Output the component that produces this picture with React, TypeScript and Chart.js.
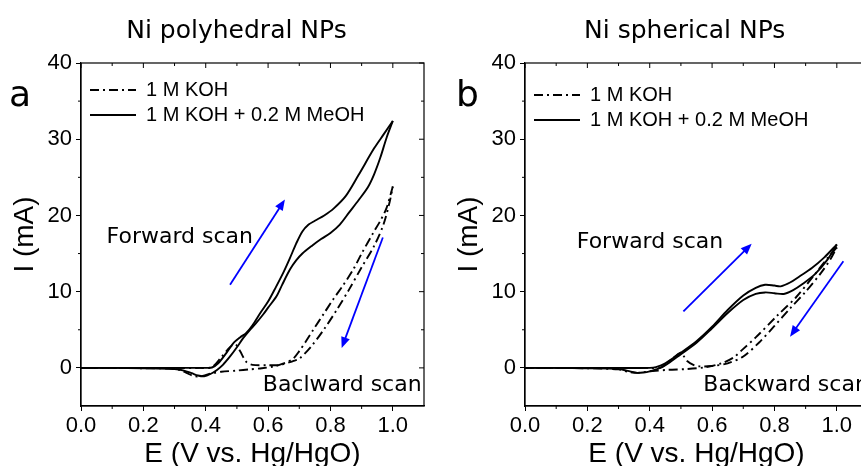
import React, { useEffect, useRef } from "react";
import { Chart, registerables } from "chart.js";

Chart.register(...registerables);

// ---- Text ----
const panelTitles = ["Ni polyhedral NPs", "Ni spherical NPs"];
const panelLetters = ["a", "b"];
const seriesLabels = ["1 M KOH", "1 M KOH + 0.2 M MeOH"];
const xAxisTitle = "E (V vs. Hg/HgO)";
const yAxisTitle = "I (mA)";
const forwardText = "Forward scan";
const backwardTextA = "Baclward scan";
const backwardTextB = "Backward scan";

// ---- Ticks ----
const xTickValues = [0, 0.2, 0.4, 0.6, 0.8, 1.0];
const xMinorValues = [0.1, 0.3, 0.5, 0.7, 0.9];
const yTickValues = [0, 10, 20, 30, 40];
const yMinorValues = [5, 15, 25, 35];

// ---- Panel a (polyhedral) ----
const kohAFwdX = [0, 0.1, 0.2, 0.3, 0.38, 0.42, 0.45, 0.48, 0.495, 0.51, 0.53, 0.55, 0.6, 0.64, 0.68, 0.7, 0.74, 0.78, 0.82, 0.86, 0.9, 0.94, 0.97, 0.99, 1.0];
const kohAFwdY = [0, 0, 0, 0, 0, 0.1, 1.4, 2.8, 3.1, 2.2, 0.8, 0.4, 0.35, 0.4, 0.9, 1.2, 2.9, 5.1, 7.6, 10.3, 13.2, 16.0, 18.8, 21.8, 23.8];
const kohABwdX = [1.0, 0.98, 0.96, 0.937, 0.9, 0.873, 0.84, 0.809, 0.78, 0.745, 0.72, 0.7, 0.68, 0.65, 0.62, 0.58, 0.54, 0.5, 0.45, 0.42, 0.39, 0.365, 0.34, 0.32, 0.28, 0.2, 0.1, 0];
const kohABwdY = [23.8, 21.0, 19.3, 17.7, 15.0, 12.9, 10.8, 9.0, 7.2, 5.0, 3.4, 2.2, 1.2, 0.6, 0.2, -0.05, -0.2, -0.35, -0.5, -0.7, -1.05, -1.1, -0.7, -0.3, -0.1, -0.05, 0, 0];
const meohAFwdX = [0, 0.1, 0.2, 0.3, 0.4, 0.42, 0.44, 0.467, 0.49, 0.51, 0.53, 0.55, 0.575, 0.6, 0.625, 0.65, 0.67, 0.69, 0.71, 0.73, 0.75, 0.78, 0.81, 0.85, 0.89, 0.94, 0.97, 1.0];
const meohAFwdY = [0, 0, 0, 0, 0, 0.05, 0.6, 2.0, 3.3, 4.0, 4.6, 5.6, 7.2, 8.7, 10.6, 12.6, 14.4, 16.3, 17.9, 18.8, 19.3, 20.0, 20.9, 22.6, 25.3, 28.8, 30.6, 32.4];
const meohABwdX = [1.0, 0.98, 0.96, 0.94, 0.92, 0.89, 0.86, 0.83, 0.8, 0.77, 0.74, 0.71, 0.69, 0.67, 0.645, 0.627, 0.6, 0.584, 0.56, 0.542, 0.52, 0.5, 0.478, 0.455, 0.435, 0.415, 0.395, 0.375, 0.355, 0.33, 0.3, 0.2, 0.1, 0];
const meohABwdY = [32.4, 30.2, 27.6, 25.4, 23.7, 22.0, 20.4, 18.8, 17.7, 16.9, 16.0, 15.0, 14.1, 12.9, 10.9, 9.4, 7.9, 7.0, 5.8, 5.0, 3.9, 2.7, 1.5, 0.4, -0.3, -0.8, -1.1, -1.0, -0.7, -0.35, -0.15, -0.05, 0, 0];

// ---- Panel b (spherical) ----
const kohBFwdX = [0, 0.1, 0.2, 0.3, 0.4, 0.433, 0.46, 0.49, 0.5, 0.51, 0.52, 0.54, 0.56, 0.6, 0.65, 0.7, 0.75, 0.8, 0.85, 0.9, 0.95, 0.98, 1.0];
const kohBFwdY = [0, 0, 0, 0, 0, 0, 0.8, 1.8, 2.0, 1.5, 0.9, 0.4, 0.2, 0.25, 0.6, 1.5, 3.3, 5.5, 7.8, 10.0, 12.5, 14.3, 15.8];
const kohBBwdX = [1.0, 0.97, 0.93, 0.87, 0.81, 0.74, 0.7, 0.67, 0.63, 0.58, 0.52, 0.46, 0.4, 0.36, 0.33, 0.3, 0.2, 0.1, 0];
const kohBBwdY = [15.8, 14.4, 12.3, 9.3, 6.9, 4.0, 2.5, 1.4, 0.6, 0.1, -0.15, -0.25, -0.45, -0.65, -0.5, -0.2, -0.05, 0, 0];
const meohBFwdX = [0, 0.1, 0.2, 0.3, 0.4, 0.42, 0.45, 0.5, 0.55, 0.6, 0.65, 0.7, 0.74, 0.77, 0.8, 0.82, 0.85, 0.88, 0.92, 0.96, 1.0];
const meohBFwdY = [0, 0, 0, 0, 0, 0.1, 0.6, 2.0, 3.5, 5.4, 7.6, 9.5, 10.5, 10.9, 10.8, 10.7, 11.2, 12.0, 13.1, 14.5, 16.2];
const meohBBwdX = [1.0, 0.97, 0.93, 0.89, 0.86, 0.83, 0.8, 0.77, 0.74, 0.7, 0.65, 0.6, 0.55, 0.5, 0.46, 0.44, 0.42, 0.4, 0.38, 0.36, 0.33, 0.3, 0.2, 0.1, 0];
const meohBBwdY = [16.2, 14.2, 12.3, 11.0, 10.2, 9.7, 9.8, 9.9, 9.7, 8.9, 7.2, 5.2, 3.3, 1.8, 0.6, 0.1, -0.2, -0.45, -0.6, -0.65, -0.4, -0.15, -0.05, 0, 0];

// ---- Scan-direction arrows (data coords: [x, y]) ----
const arrowA1From = [0.478, 10.9];
const arrowA1To = [0.654, 22.1];
const arrowA2From = [0.968, 17.1];
const arrowA2To = [0.836, 2.6];
const arrowB1From = [0.508, 7.4];
const arrowB1To = [0.727, 16.3];
const arrowB2From = [1.021, 14.0];
const arrowB2To = [0.85, 4.1];

const FONT_SANS = "'Liberation Sans', Arial, sans-serif";
const FONT_HAND = "'DejaVu Sans', sans-serif";
const DASH_DOT = [9, 4, 2, 4];
const LINE_W = 1.9;

type Panel = {
  title: string;
  titleX: number;
  letter: string;
  letterX: number;
  padLeft: number;
  padRight: number;
  legendDX: number;
  legendDY: number;
  koh: [number[], number[], number[], number[]];
  meoh: [number[], number[], number[], number[]];
  fwdPos: [number, number];
  bwdText: string;
  bwdPos: [number, number];
  arrows: number[][][];
};

const zip = (xs: number[], ys: number[]) => xs.map((x, i) => ({ x, y: ys[i] }));

function drawArrow(ctx: CanvasRenderingContext2D, x1: number, y1: number, x2: number, y2: number) {
  const ang = Math.atan2(y2 - y1, x2 - x1);
  const hl = 11;
  const hw = 4.5;
  const c = Math.cos(ang);
  const s = Math.sin(ang);
  ctx.beginPath();
  ctx.moveTo(x1, y1);
  ctx.lineTo(x2 - c * hl * 0.7, y2 - s * hl * 0.7);
  ctx.stroke();
  ctx.beginPath();
  ctx.moveTo(x2, y2);
  ctx.lineTo(x2 - hl * c + hw * s, y2 - hl * s - hw * c);
  ctx.lineTo(x2 - hl * c - hw * s, y2 - hl * s + hw * c);
  ctx.closePath();
  ctx.fill();
}

function decorPlugin(p: Panel) {
  return {
    id: "decor",
    afterLayout(chart: any) {
      const lg = chart.legend;
      const ca = chart.chartArea;
      if (lg && ca) {
        const h = lg.bottom - lg.top;
        lg.left = ca.left + p.legendDX;
        lg.top = ca.top + p.legendDY;
        lg.bottom = lg.top + h;
      }
    },
    afterDraw(chart: any) {
      const { ctx, chartArea: ca } = chart;
      const xs = chart.scales.x;
      const ys = chart.scales.y;
      ctx.save();
      ctx.setLineDash([]);
      ctx.strokeStyle = "#000";
      ctx.lineWidth = 1.2;
      ctx.strokeRect(ca.left, ca.top, ca.right - ca.left, ca.bottom - ca.top);
      ctx.lineWidth = 1;
      ctx.beginPath();
      for (const v of xTickValues) {
        const px = xs.getPixelForValue(v);
        ctx.moveTo(px, ca.top);
        ctx.lineTo(px, ca.top + 5);
      }
      for (const v of xMinorValues) {
        const px = xs.getPixelForValue(v);
        ctx.moveTo(px, ca.bottom);
        ctx.lineTo(px, ca.bottom + 3);
        ctx.moveTo(px, ca.top);
        ctx.lineTo(px, ca.top + 3);
      }
      for (const v of yTickValues) {
        const py = ys.getPixelForValue(v);
        ctx.moveTo(ca.right, py);
        ctx.lineTo(ca.right - 5, py);
      }
      for (const v of yMinorValues) {
        const py = ys.getPixelForValue(v);
        ctx.moveTo(ca.left, py);
        ctx.lineTo(ca.left - 3, py);
        ctx.moveTo(ca.right, py);
        ctx.lineTo(ca.right - 3, py);
      }
      ctx.stroke();

      // titles and letters
      ctx.fillStyle = "#000";
      ctx.textBaseline = "alphabetic";
      ctx.textAlign = "center";
      ctx.font = `25px ${FONT_HAND}`;
      ctx.fillText(p.title, p.titleX, 38);
      ctx.textAlign = "left";
      ctx.font = `36px ${FONT_HAND}`;
      ctx.fillText(p.letter, p.letterX, 106);

      // scan labels
      ctx.font = `22px ${FONT_HAND}`;
      ctx.fillText(forwardText, xs.getPixelForValue(p.fwdPos[0]), ys.getPixelForValue(p.fwdPos[1]));
      ctx.fillText(p.bwdText, xs.getPixelForValue(p.bwdPos[0]), ys.getPixelForValue(p.bwdPos[1]));

      // arrows
      ctx.strokeStyle = "#0000ff";
      ctx.fillStyle = "#0000ff";
      ctx.lineWidth = 1.8;
      for (const [from, to] of p.arrows) {
        drawArrow(
          ctx,
          xs.getPixelForValue(from[0]),
          ys.getPixelForValue(from[1]),
          xs.getPixelForValue(to[0]),
          ys.getPixelForValue(to[1])
        );
      }
      ctx.restore();
    },
  };
}

function buildConfig(p: Panel): any {
  const common = {
    showLine: true,
    pointRadius: 0,
    pointHoverRadius: 0,
    pointStyle: "line",
    pointBorderWidth: LINE_W,
    pointBorderColor: "#000",
    borderColor: "#000",
    backgroundColor: "#000",
    borderWidth: LINE_W,
    tension: 0.3,
    fill: false,
  };
  return {
    type: "scatter",
    data: {
      datasets: [
        { ...common, label: seriesLabels[0], data: zip(p.koh[0], p.koh[1]), borderDash: DASH_DOT },
        { ...common, label: "", data: zip(p.koh[2], p.koh[3]), borderDash: DASH_DOT },
        { ...common, label: seriesLabels[1], data: zip(p.meoh[0], p.meoh[1]) },
        { ...common, label: "", data: zip(p.meoh[2], p.meoh[3]) },
      ],
    },
    options: {
      animation: false,
      responsive: false,
      devicePixelRatio: 1,
      events: [],
      layout: { padding: { left: p.padLeft, top: 63, right: p.padRight, bottom: 0 } },
      plugins: {
        tooltip: { enabled: false },
        title: { display: false },
        legend: {
          display: true,
          position: "chartArea",
          align: "start",
          labels: {
            generateLabels: (chart: any) => {
              const items = Chart.defaults.plugins.legend.labels.generateLabels(chart);
              return items.map((it: any) => {
                const ds = chart.data.datasets[it.datasetIndex];
                return {
                  ...it,
                  lineDash: ds.borderDash || [],
                  lineWidth: LINE_W,
                  strokeStyle: "#000",
                  pointStyle: "line",
                };
              });
            },
            filter: (item: any) => item.text !== "",
            usePointStyle: true,
            pointStyleWidth: 46,
            boxHeight: 20,
            padding: 5,
            color: "#000",
            font: { family: FONT_SANS, size: 20 },
          },
        },
      },
      scales: {
        x: {
          type: "linear",
          min: 0,
          max: 1.1,
          afterFit: (s: any) => {
            s.height = 60;
          },
          afterBuildTicks: (s: any) => {
            s.ticks = xTickValues.map((v) => ({ value: v }));
          },
          ticks: {
            autoSkip: false,
            maxRotation: 0,
            padding: 2,
            color: "#000",
            font: { family: FONT_SANS, size: 22 },
            callback: (v: any) => Number(v).toFixed(1),
          },
          grid: { display: true, drawOnChartArea: false, drawTicks: true, tickLength: 5, color: "#000", lineWidth: 1 },
          border: { display: true, color: "#000", width: 1.2 },
          title: {
            display: true,
            text: xAxisTitle,
            color: "#000",
            font: { family: FONT_SANS, size: 28, lineHeight: 0.86 },
            padding: { top: 0, bottom: 0 },
          },
        },
        y: {
          type: "linear",
          min: -5,
          max: 40,
          afterFit: (s: any) => {
            s.width = 81;
          },
          afterBuildTicks: (s: any) => {
            s.ticks = yTickValues.map((v) => ({ value: v }));
          },
          ticks: {
            autoSkip: false,
            padding: 4,
            color: "#000",
            font: { family: FONT_SANS, size: 22 },
            callback: (v: any) => String(v),
          },
          grid: { display: true, drawOnChartArea: false, drawTicks: true, tickLength: 5, color: "#000", lineWidth: 1 },
          border: { display: true, color: "#000", width: 1.2 },
          title: {
            display: true,
            text: yAxisTitle,
            color: "#000",
            font: { family: FONT_SANS, size: 28, lineHeight: 1.2 },
            padding: { top: 8, bottom: 0 },
          },
        },
      },
    },
    plugins: [decorPlugin(p)],
  };
}

const panelA: Panel = {
  title: panelTitles[0],
  titleX: 236.5,
  letter: panelLetters[0],
  letterX: 9,
  padLeft: 0,
  padRight: 6,
  legendDX: 4,
  legendDY: 12,
  koh: [kohAFwdX, kohAFwdY, kohABwdX, kohABwdY],
  meoh: [meohAFwdX, meohAFwdY, meohABwdX, meohABwdY],
  fwdPos: [0.082, 16.4],
  bwdText: backwardTextA,
  bwdPos: [0.583, -3.07],
  arrows: [
    [arrowA1From, arrowA1To],
    [arrowA2From, arrowA2To],
  ],
};

const panelB: Panel = {
  title: panelTitles[1],
  titleX: 254.7,
  letter: panelLetters[1],
  letterX: 26,
  padLeft: 14,
  padRight: 2,
  legendDX: 4,
  legendDY: 17,
  koh: [kohBFwdX, kohBFwdY, kohBBwdX, kohBBwdY],
  meoh: [meohBFwdX, meohBFwdY, meohBBwdX, meohBBwdY],
  fwdPos: [0.166, 15.7],
  bwdText: backwardTextB,
  bwdPos: [0.572, -3.07],
  arrows: [
    [arrowB1From, arrowB1To],
    [arrowB2From, arrowB2To],
  ],
};

export default function App() {
  const refA = useRef<HTMLCanvasElement>(null);
  const refB = useRef<HTMLCanvasElement>(null);
  useEffect(() => {
    const a = new Chart(refA.current as HTMLCanvasElement, buildConfig(panelA));
    const b = new Chart(refB.current as HTMLCanvasElement, buildConfig(panelB));
    return () => {
      a.destroy();
      b.destroy();
    };
  }, []);
  return (
    <div
      style={{
        position: "absolute",
        left: 0,
        top: 0,
        width: 861,
        height: 466,
        overflow: "hidden",
        background: "#fff",
      }}
    >
      <canvas
        ref={refA}
        width={430}
        height={466}
        style={{ position: "absolute", left: 0, top: 0, width: 430, height: 466 }}
      />
      <canvas
        ref={refB}
        width={440}
        height={466}
        style={{ position: "absolute", left: 430, top: 0, width: 440, height: 466 }}
      />
    </div>
  );
}
